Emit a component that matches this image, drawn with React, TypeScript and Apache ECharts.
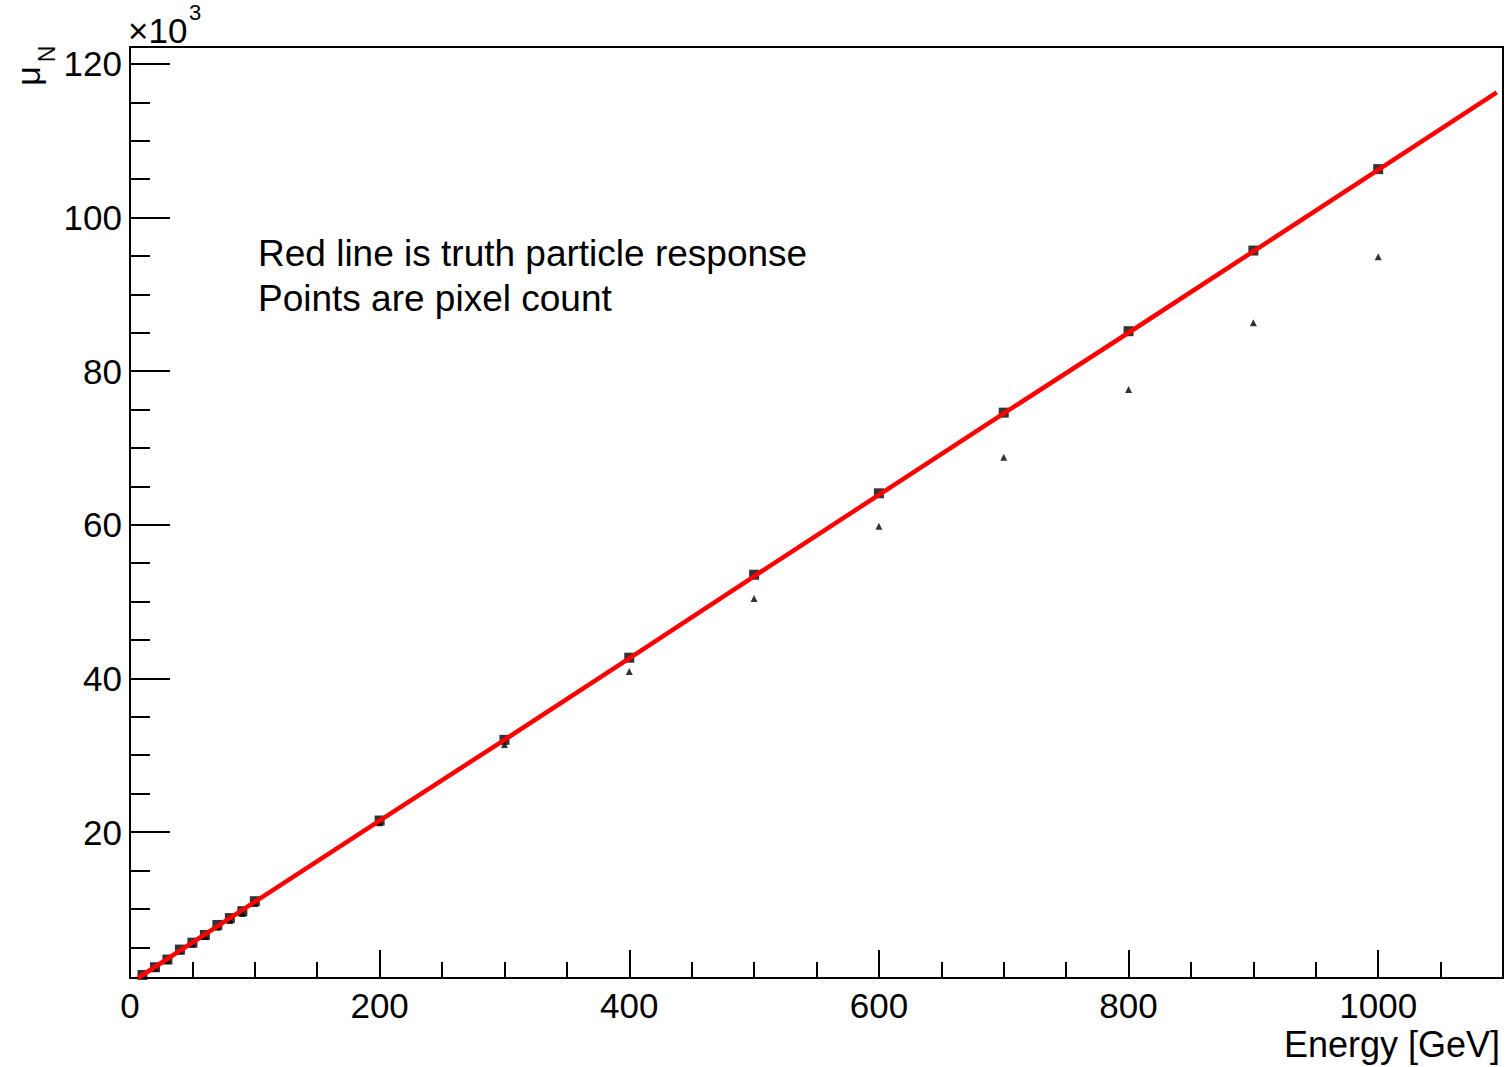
import React, { useEffect, useRef } from "react";
import * as echarts from "echarts";

// Squares: pixel-response points (Energy [GeV], value x10^3)
const squareEnergy = [10, 20, 30, 40, 50, 60, 70, 80, 90, 100, 200, 300, 400, 500, 600, 700, 800, 900, 1000];
const squareValues = [1.4, 2.4, 3.4, 4.7, 5.6, 6.6, 7.9, 8.8, 9.7, 11.0, 21.5, 32.0, 42.7, 53.5, 64.1, 74.6, 85.2, 95.7, 106.3];

// Triangles: pixel count
const triEnergy = [10, 20, 30, 40, 50, 60, 70, 80, 90, 100, 200, 300, 400, 500, 600, 700, 800, 900, 1000];
const triValues = [1.3, 2.3, 3.3, 4.5, 5.4, 6.4, 7.6, 8.5, 9.4, 10.7, 21.2, 31.4, 40.9, 50.4, 59.8, 68.8, 77.6, 86.3, 94.9];

// Red line: truth particle response
const lineEnergy = [6.4, 100, 200, 300, 400, 500, 600, 700, 800, 900, 1000, 1095];
const lineValues = [1.0, 10.9, 21.5, 32.0, 42.6, 53.3, 63.9, 74.5, 85.0, 95.6, 106.2, 116.3];

// Axis ticks
const xMajorTicks = [0, 200, 400, 600, 800, 1000];
const xMinorTicks = [50, 100, 150, 250, 300, 350, 450, 500, 550, 650, 700, 750, 850, 900, 950, 1050];
const yMajorTicks = [20, 40, 60, 80, 100, 120];
const yMinorTicks = [5, 10, 15, 25, 30, 35, 45, 50, 55, 65, 70, 75, 85, 90, 95, 105, 110, 115];

const FONT = "'Liberation Sans', Arial, Helvetica, sans-serif";

export default function App() {
  const ref = useRef<HTMLDivElement>(null);
  useEffect(() => {
    if (!ref.current) return;
    const chart = echarts.init(ref.current, undefined, { renderer: "svg" });
    const axisLine = { show: true, lineStyle: { color: "#000", width: 2 } };
    const xCommon = { type: "value", min: 0, max: 1100, gridIndex: 0, position: "bottom", splitLine: { show: false } };
    const yCommon = { type: "value", min: 1, max: 122.2, gridIndex: 0, position: "left", splitLine: { show: false } };
    chart.setOption({
      animation: false,
      backgroundColor: "#fff",
      textStyle: { fontFamily: FONT },
      grid: { left: 130, top: 47, width: 1373, height: 931, show: true, borderColor: "#000", borderWidth: 2, backgroundColor: "transparent" },
      xAxis: [
        {
          ...xCommon,
          axisLine,
          axisTick: { show: true, inside: true, length: 28, customValues: xMajorTicks, lineStyle: { color: "#000", width: 2 } },
          axisLabel: { show: true, customValues: xMajorTicks, fontSize: 35, color: "#000", margin: 10, fontFamily: FONT, formatter: (v: number) => String(v) },
        },
        {
          ...xCommon,
          axisLine: { show: false },
          axisTick: { show: true, inside: true, length: 16, customValues: xMinorTicks, lineStyle: { color: "#000", width: 2 } },
          axisLabel: { show: false },
        },
      ],
      yAxis: [
        {
          ...yCommon,
          axisLine,
          axisTick: { show: true, inside: true, length: 40, customValues: yMajorTicks, lineStyle: { color: "#000", width: 2 } },
          axisLabel: { show: true, customValues: yMajorTicks, fontSize: 35, color: "#000", margin: 8, fontFamily: FONT, formatter: (v: number) => String(v) },
        },
        {
          ...yCommon,
          axisLine: { show: false },
          axisTick: { show: true, inside: true, length: 20, customValues: yMinorTicks, lineStyle: { color: "#000", width: 2 } },
          axisLabel: { show: false },
        },
      ],
      series: [
        {
          type: "scatter",
          xAxisIndex: 0,
          yAxisIndex: 0,
          symbol: "triangle",
          symbolSize: 7,
          itemStyle: { color: "#000" },
          data: triEnergy.map((e, i) => [e, triValues[i]]),
          z: 2,
        },
        {
          type: "scatter",
          xAxisIndex: 0,
          yAxisIndex: 0,
          symbol: "rect",
          symbolSize: 10,
          itemStyle: { color: "#000" },
          data: squareEnergy.map((e, i) => [e, squareValues[i]]),
          z: 3,
        },
        {
          type: "line",
          xAxisIndex: 0,
          yAxisIndex: 0,
          showSymbol: false,
          symbol: "none",
          lineStyle: { color: "#ff0000", width: 4.5 },
          data: lineEnergy.map((e, i) => [e, lineValues[i]]),
          z: 4,
        },
      ],
      graphic: [
        { type: "text", x: 258, y: 253, style: { text: "Red line is truth particle response", fontSize: 37, fontFamily: FONT, fill: "#000", verticalAlign: "middle", align: "left" } },
        { type: "text", x: 258, y: 298, style: { text: "Points are pixel count", fontSize: 37, fontFamily: FONT, fill: "#000", verticalAlign: "middle", align: "left" } },
        { type: "text", x: 1500, y: 1044, style: { text: "Energy [GeV]", fontSize: 36, fontFamily: FONT, fill: "#000", verticalAlign: "middle", align: "right" } },
        { type: "text", x: 128, y: 30, style: { text: "×10", fontSize: 35, fontFamily: FONT, fill: "#000", verticalAlign: "middle", align: "left" } },
        { type: "text", x: 189, y: 12, style: { text: "3", fontSize: 22, fontFamily: FONT, fill: "#000", verticalAlign: "middle", align: "left" } },
        { type: "text", x: 28, y: 76, rotation: Math.PI / 2, style: { text: "μ", fontSize: 34, fontFamily: FONT, fill: "#000", verticalAlign: "middle", align: "center" } },
        { type: "text", x: 47, y: 54, rotation: Math.PI / 2, style: { text: "N", fontSize: 23, fontFamily: FONT, fill: "#000", verticalAlign: "middle", align: "center" } },
      ],
    });
    return () => chart.dispose();
  }, []);
  return <div ref={ref} style={{ position: "fixed", left: 0, top: 0, width: 1507, height: 1067 }} />;
}
